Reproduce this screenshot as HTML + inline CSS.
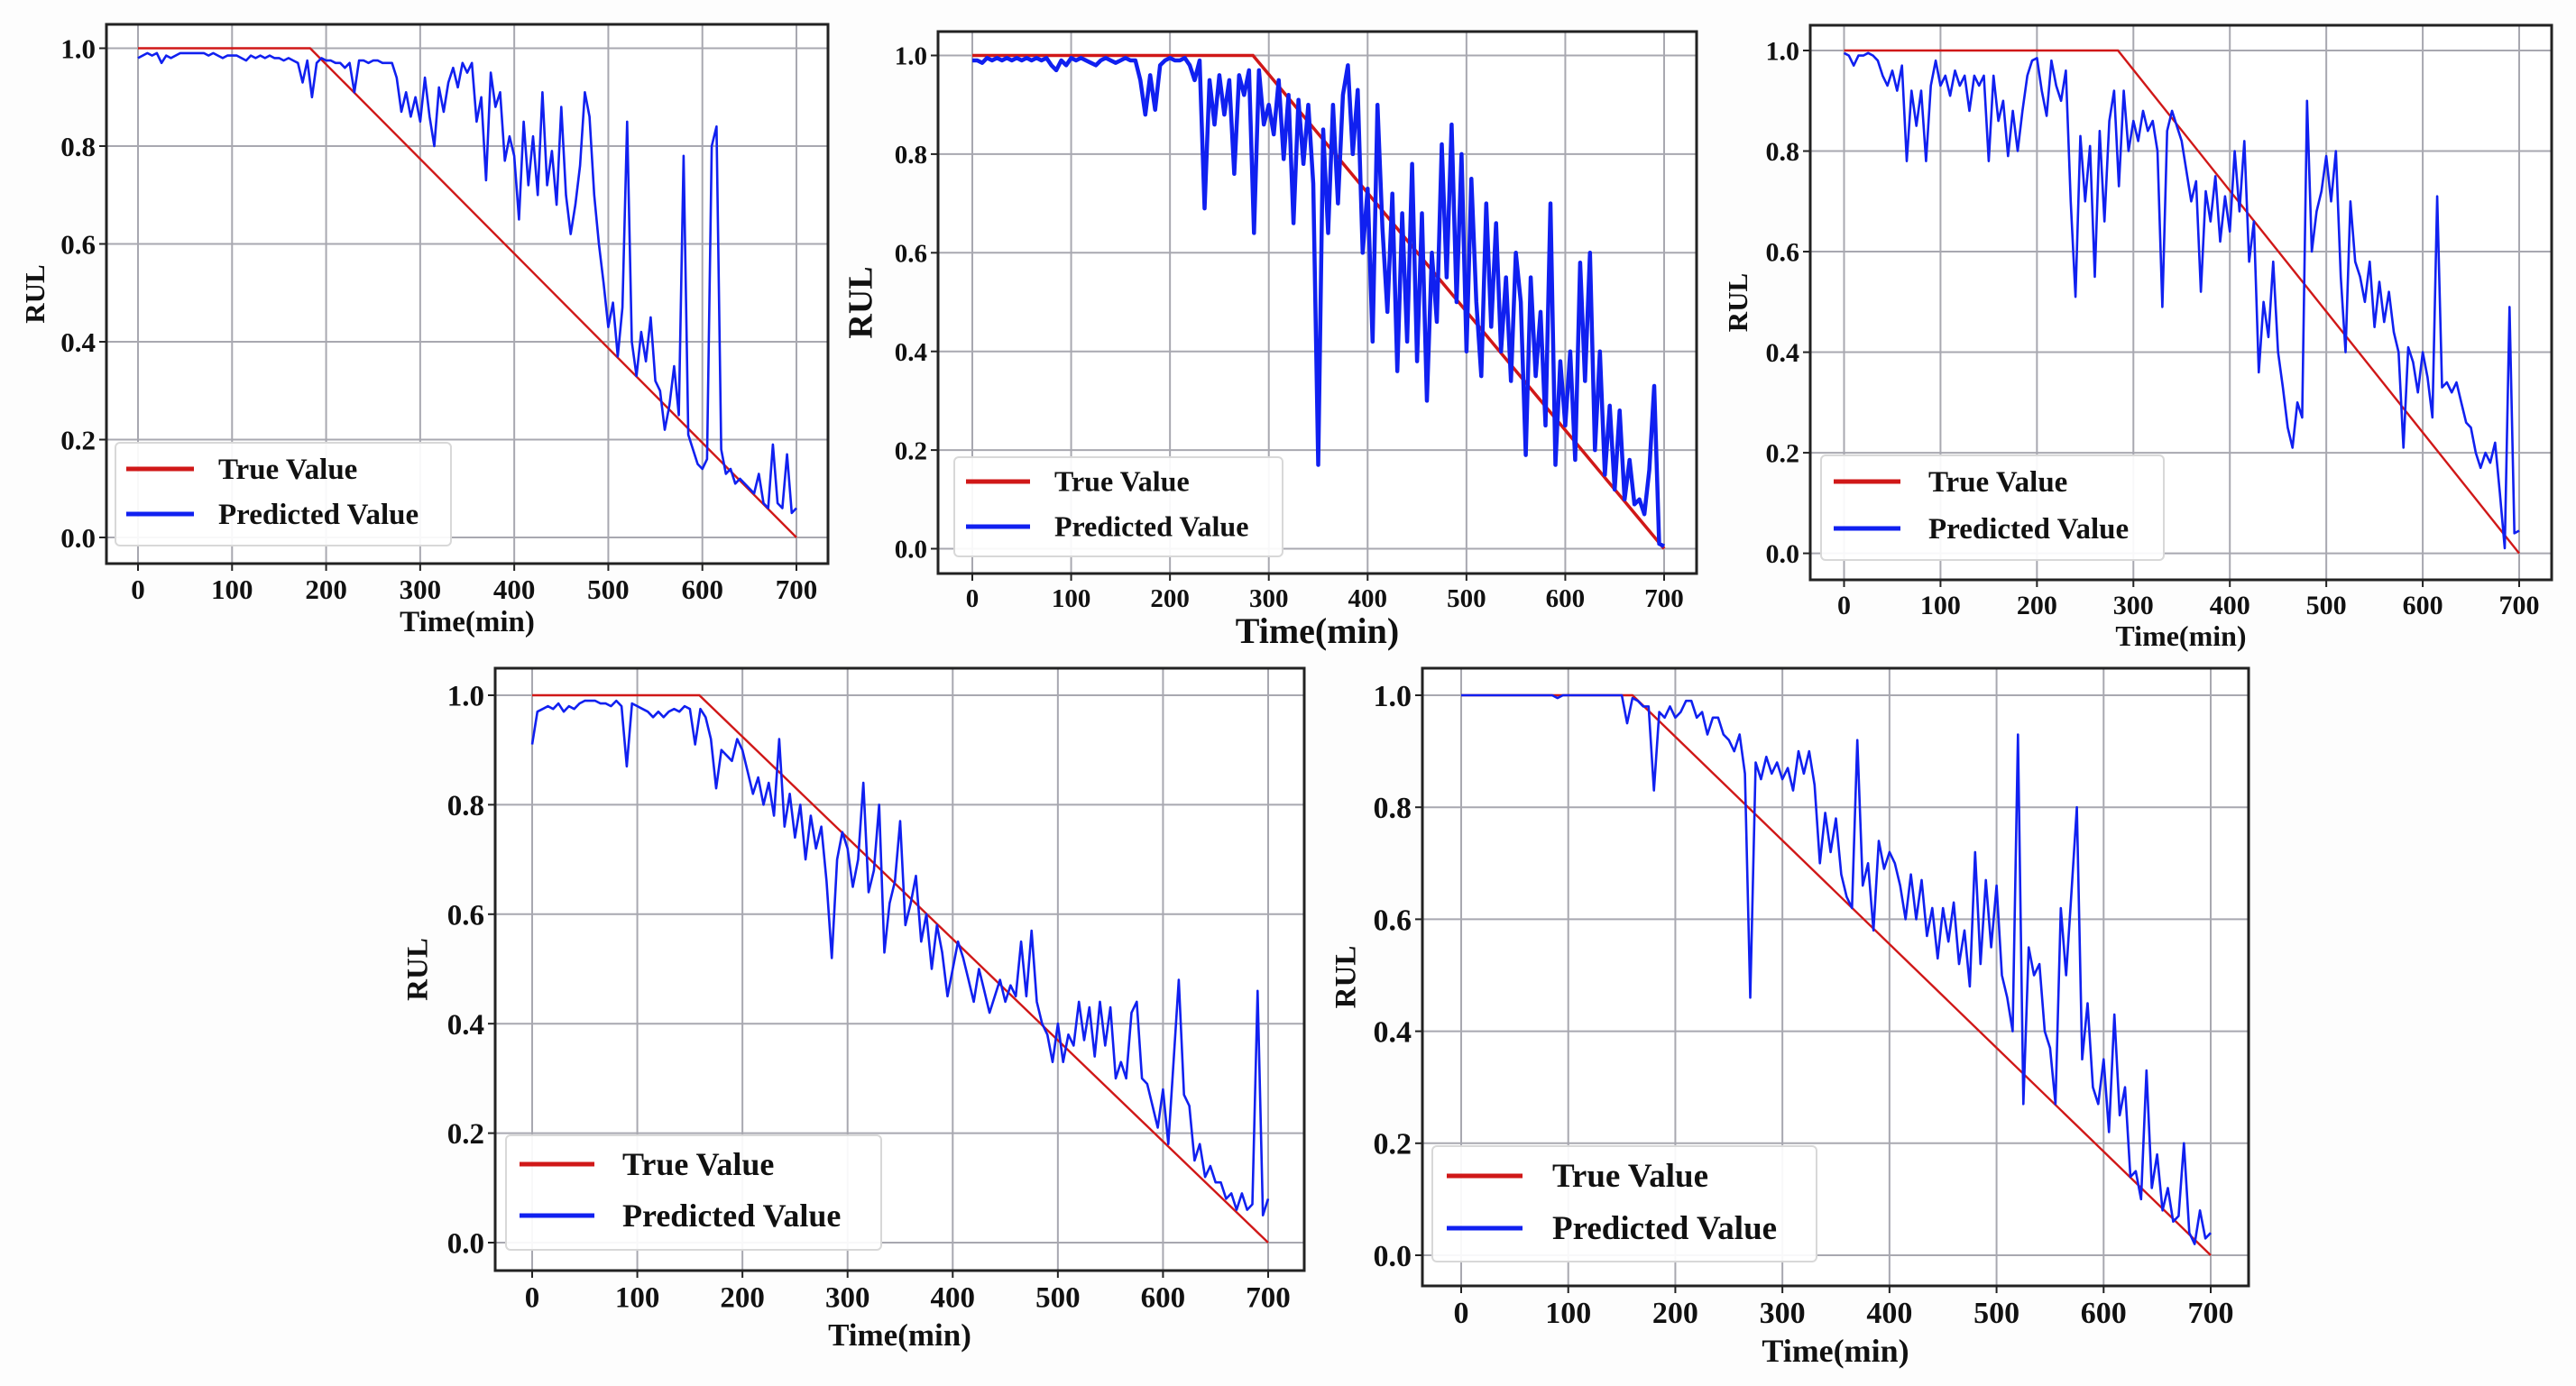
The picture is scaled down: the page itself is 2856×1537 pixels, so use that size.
<!DOCTYPE html>
<html><head><meta charset="utf-8"><style>
html,body{margin:0;padding:0;background:#fdfdfd;}
svg{display:block;}
text{font-family:"Liberation Serif",serif;font-weight:bold;fill:#111;}
</style></head><body>
<svg id="fig" width="2856" height="1537" viewBox="0 0 2856 1537" xmlns="http://www.w3.org/2000/svg">
<rect x="0" y="0" width="2856" height="1537" fill="#fdfdfd"/>
</svg>
<script>
const xTicks=[0,100,200,300,400,500,600,700];
const yTicks=[0.0,0.2,0.4,0.6,0.8,1.0];
const yTickLabels=["0.0","0.2","0.4","0.6","0.8","1.0"];
const legendLabels=["True Value","Predicted Value"];
const trueBreaks=[183,284,284,159,160];
const trueEnd=700;
const pred1=[0.98,0.985,0.99,0.985,0.99,0.97,0.985,0.98,0.985,0.99,0.99,0.99,0.99,0.99,0.99,0.985,0.99,0.985,0.98,0.985,0.985,0.985,0.98,0.975,0.985,0.98,0.985,0.98,0.985,0.98,0.98,0.975,0.98,0.975,0.97,0.93,0.975,0.90,0.97,0.98,0.975,0.975,0.97,0.97,0.96,0.97,0.91,0.975,0.975,0.97,0.975,0.975,0.97,0.97,0.97,0.94,0.87,0.91,0.86,0.90,0.85,0.94,0.86,0.80,0.92,0.87,0.93,0.96,0.92,0.97,0.95,0.97,0.85,0.90,0.73,0.95,0.88,0.91,0.77,0.82,0.78,0.65,0.85,0.72,0.82,0.70,0.91,0.72,0.79,0.68,0.88,0.70,0.62,0.68,0.76,0.91,0.86,0.70,0.60,0.52,0.43,0.48,0.37,0.47,0.85,0.40,0.33,0.42,0.36,0.45,0.32,0.30,0.22,0.27,0.35,0.25,0.78,0.21,0.18,0.15,0.14,0.16,0.80,0.84,0.18,0.13,0.14,0.11,0.12,0.11,0.10,0.09,0.13,0.07,0.06,0.19,0.07,0.06,0.17,0.05,0.06];
const pred2=[0.99,0.99,0.985,0.995,0.99,0.995,0.99,0.995,0.99,0.995,0.99,0.995,0.99,0.995,0.99,0.995,0.98,0.97,0.99,0.98,0.995,0.99,0.995,0.99,0.985,0.98,0.99,0.995,0.99,0.985,0.99,0.995,0.99,0.99,0.95,0.88,0.96,0.89,0.98,0.99,0.995,0.99,0.99,0.995,0.98,0.95,0.99,0.69,0.95,0.86,0.96,0.88,0.95,0.76,0.96,0.92,0.97,0.64,0.97,0.86,0.90,0.84,0.95,0.79,0.92,0.66,0.91,0.78,0.90,0.74,0.17,0.85,0.64,0.90,0.70,0.92,0.98,0.80,0.93,0.60,0.73,0.42,0.90,0.65,0.48,0.72,0.36,0.68,0.42,0.78,0.38,0.68,0.30,0.60,0.46,0.82,0.55,0.86,0.50,0.80,0.40,0.75,0.50,0.35,0.70,0.45,0.66,0.40,0.55,0.34,0.60,0.50,0.19,0.55,0.35,0.48,0.25,0.70,0.17,0.38,0.25,0.40,0.18,0.58,0.34,0.60,0.20,0.40,0.15,0.29,0.12,0.28,0.10,0.18,0.09,0.10,0.07,0.16,0.33,0.01,0.005];
const pred3=[0.995,0.99,0.97,0.99,0.99,0.995,0.99,0.98,0.95,0.93,0.96,0.92,0.97,0.78,0.92,0.85,0.92,0.78,0.93,0.98,0.93,0.95,0.91,0.96,0.93,0.95,0.88,0.95,0.93,0.95,0.78,0.95,0.86,0.90,0.79,0.88,0.80,0.88,0.95,0.98,0.985,0.92,0.87,0.98,0.93,0.90,0.96,0.70,0.51,0.83,0.70,0.81,0.55,0.84,0.66,0.86,0.92,0.73,0.92,0.80,0.86,0.82,0.88,0.84,0.86,0.80,0.49,0.84,0.88,0.85,0.82,0.76,0.70,0.74,0.52,0.72,0.66,0.75,0.62,0.71,0.64,0.80,0.68,0.82,0.58,0.66,0.36,0.50,0.43,0.58,0.40,0.33,0.25,0.21,0.30,0.27,0.90,0.60,0.68,0.72,0.79,0.70,0.80,0.55,0.40,0.70,0.58,0.55,0.50,0.58,0.45,0.54,0.46,0.52,0.44,0.40,0.21,0.41,0.38,0.32,0.40,0.35,0.27,0.71,0.33,0.34,0.32,0.34,0.30,0.26,0.25,0.20,0.17,0.20,0.18,0.22,0.12,0.01,0.49,0.04,0.045];
const pred4=[0.91,0.97,0.975,0.98,0.975,0.985,0.97,0.98,0.975,0.985,0.99,0.99,0.99,0.985,0.985,0.98,0.99,0.98,0.87,0.985,0.98,0.975,0.97,0.96,0.97,0.96,0.97,0.975,0.97,0.98,0.975,0.91,0.975,0.96,0.92,0.83,0.90,0.89,0.88,0.92,0.90,0.86,0.82,0.85,0.80,0.84,0.78,0.92,0.76,0.82,0.74,0.80,0.70,0.78,0.72,0.76,0.66,0.52,0.70,0.75,0.72,0.65,0.70,0.84,0.64,0.68,0.80,0.53,0.62,0.66,0.77,0.58,0.62,0.67,0.55,0.60,0.50,0.58,0.53,0.45,0.50,0.55,0.52,0.48,0.44,0.50,0.46,0.42,0.45,0.48,0.44,0.47,0.45,0.55,0.45,0.57,0.44,0.40,0.38,0.33,0.40,0.33,0.38,0.36,0.44,0.37,0.43,0.34,0.44,0.36,0.43,0.30,0.33,0.30,0.42,0.44,0.30,0.29,0.25,0.21,0.28,0.18,0.33,0.48,0.27,0.25,0.15,0.18,0.12,0.14,0.11,0.11,0.08,0.09,0.06,0.09,0.06,0.07,0.46,0.05,0.08];
const pred5=[1,1,1,1,1,1,1,1,1,1,1,1,1,1,1,1,1,1,0.995,1,1,1,1,1,1,1,1,1,1,1,1,0.95,0.995,0.99,0.98,0.98,0.83,0.97,0.96,0.98,0.96,0.97,0.99,0.99,0.96,0.97,0.93,0.96,0.96,0.93,0.92,0.90,0.93,0.86,0.46,0.88,0.85,0.89,0.86,0.88,0.85,0.87,0.83,0.90,0.86,0.90,0.84,0.70,0.79,0.72,0.78,0.68,0.64,0.62,0.92,0.66,0.70,0.58,0.74,0.69,0.72,0.70,0.66,0.60,0.68,0.60,0.67,0.57,0.62,0.53,0.62,0.56,0.63,0.52,0.58,0.48,0.72,0.52,0.67,0.55,0.66,0.50,0.46,0.40,0.93,0.27,0.55,0.50,0.52,0.40,0.37,0.27,0.62,0.50,0.65,0.80,0.35,0.45,0.30,0.27,0.35,0.22,0.43,0.25,0.30,0.14,0.15,0.10,0.33,0.12,0.18,0.08,0.12,0.06,0.07,0.20,0.04,0.02,0.08,0.03,0.04];
const predSeries=[pred1,pred2,pred3,pred4,pred5];

const panels=[
 {box:[118,27,918,625],x0:153,x1:883,y1:53.5,y0:596,tick:31,title:33,titleY:700,rulX:42,rulFs:31,lw:2.6,
  leg:[128,491,500,605],legFs:33,legText:242,legLine:[140,215],legY:[520,570]},
 {box:[1040,35,1881,636],x0:1078,x1:1845,y1:61.5,y0:608.5,tick:29,title:40,titleY:713,rulX:958,rulFs:38,lw:4.5,
  leg:[1058,507,1422,617],legFs:32,legText:1169,legLine:[1071,1142],legY:[534,584]},
 {box:[2007,28,2829,643],x0:2044.5,x1:2793,y1:56,y0:613.6,tick:30,title:32,titleY:716,rulX:1930,rulFs:31,lw:2.6,
  leg:[2019,505,2399,621],legFs:33,legText:2138,legLine:[2033,2107],legY:[534,586]},
 {box:[549,741,1446,1409],x0:590,x1:1406,y1:771,y0:1378,tick:33,title:35,titleY:1492,rulX:466,rulFs:33,lw:2.6,
  leg:[561,1259,977,1386],legFs:36,legText:690,legLine:[576,659],legY:[1291,1348]},
 {box:[1577,741,2493,1426],x0:1620,x1:2451,y1:771,y0:1392,tick:34,title:36,titleY:1510,rulX:1495,rulFs:33,lw:2.6,
  leg:[1588,1271,2014,1399],legFs:37,legText:1721,legLine:[1604,1688],legY:[1304,1362]}
];

const NS="http://www.w3.org/2000/svg";
const svg=document.getElementById('fig');
function mk(tag,attrs,parent){const e=document.createElementNS(NS,tag);for(const k in attrs)e.setAttribute(k,attrs[k]);(parent||svg).appendChild(e);return e;}

panels.forEach((p,i)=>{
  const g=mk('g',{});
  
  
  const xs=v=>p.x0+(v/700)*(p.x1-p.x0);
  const ys=v=>p.y0+v*(p.y1-p.y0);
  const [bl,bt,br,bb]=p.box;
  mk('rect',{x:bl,y:bt,width:br-bl,height:bb-bt,fill:'#ffffff'},g);
  // grid
  xTicks.forEach(t=>{
    const l=mk('line',{x1:xs(t),x2:xs(t),y1:bt,y2:bb,stroke:'#a8a8b0','stroke-width':2},g);
    
    
  });
  yTicks.forEach(t=>{
    const l=mk('line',{x1:bl,x2:br,y1:ys(t),y2:ys(t),stroke:'#a8a8b0','stroke-width':2},g);
    
    
  });
  // true line
  const tb=trueBreaks[i];
  const tl=mk('polyline',{points:`${xs(0)},${ys(1)} ${xs(tb)},${ys(1)} ${xs(trueEnd)},${ys(0)}`,fill:'none',stroke:'#d01818','stroke-width':i===1?3.5:2.4},g);
  
  
  // predicted
  const d=predSeries[i];
  const pts=d.map((v,k)=>xs(k*5).toFixed(1)+','+ys(v).toFixed(1)).join(' ');
  const pl=mk('polyline',{points:pts,fill:'none',stroke:'#1020f0','stroke-width':p.lw,'stroke-linejoin':'round'},g);
  
  
  // frame
  const fr=mk('rect',{x:bl,y:bt,width:br-bl,height:bb-bt,fill:'none',stroke:'#222','stroke-width':3},g);
  
  
  // ticks
  xTicks.forEach(t=>{
    mk('line',{x1:xs(t),x2:xs(t),y1:bb,y2:bb+8,stroke:'#222','stroke-width':2},g);
    const tx=mk('text',{x:xs(t),y:bb+14+p.tick*0.8,'font-size':p.tick,'text-anchor':'middle'},g);
    tx.textContent=String(t);
    
    
  });
  yTicks.forEach((t,k)=>{
    mk('line',{x1:bl-8,x2:bl,y1:ys(t),y2:ys(t),stroke:'#222','stroke-width':2},g);
    const tx=mk('text',{x:bl-12,y:ys(t)+p.tick*0.35,'font-size':p.tick,'text-anchor':'end'},g);
    tx.textContent=yTickLabels[k];
    
    
  });
  const xt=mk('text',{x:(bl+br)/2,y:p.titleY,'font-size':p.title,'text-anchor':'middle'},g);
  xt.textContent='Time(min)';
  
  
  const cy=(bt+bb)/2;
  const yt=mk('text',{x:p.rulX,y:cy,'font-size':p.rulFs,'text-anchor':'middle',transform:`rotate(-90 ${p.rulX} ${cy})`,'dominant-baseline':'middle'},g);
  yt.textContent='RUL';
  
  
  // legend
  const [ll,lt,lr,lb]=p.leg;
  const lg=mk('g',{},g);
  
  
  mk('rect',{x:ll,y:lt,width:lr-ll,height:lb-lt,rx:5,fill:'#ffffff','fill-opacity':0.92,stroke:'#d8d8d8','stroke-width':2},lg);
  const cols=['#d01818','#1020f0'];
  legendLabels.forEach((lab,k)=>{
    const e=mk('g',{},lg);
    
    
    mk('line',{x1:p.legLine[0],x2:p.legLine[1],y1:p.legY[k],y2:p.legY[k],stroke:cols[k],'stroke-width':5},e);
    const t=mk('text',{x:p.legText,y:p.legY[k]+p.legFs*0.33,'font-size':p.legFs},e);
    t.textContent=lab;
  });
});
</script>
</body></html>
